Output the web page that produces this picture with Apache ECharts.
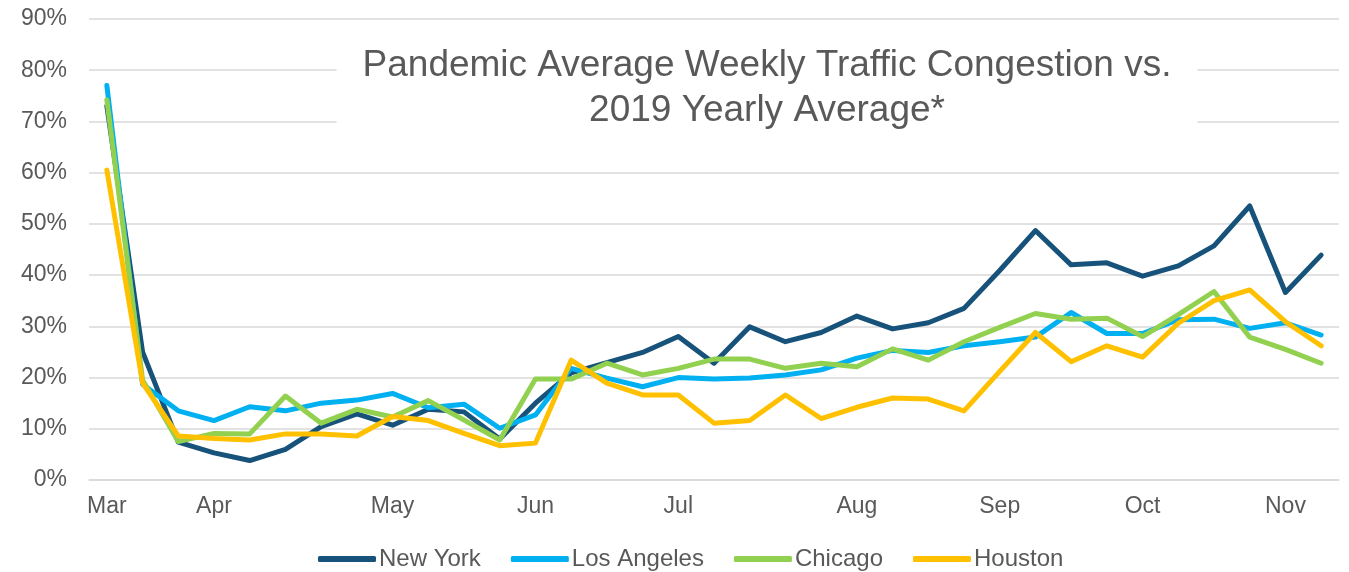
<!DOCTYPE html>
<html>
<head>
<meta charset="utf-8">
<script src="https://cdn.jsdelivr.net/npm/echarts@6/dist/echarts.min.js"></script>
<style>
html,body{margin:0;padding:0;background:#fff;}
#chart{width:1349px;height:572px;}
</style>
</head>
<body>
<div id="chart"></div>
<script>
// month tick labels and the week index they sit on
var monthLabels = ['Mar','Apr','May','Jun','Jul','Aug','Sep','Oct','Nov'];
var monthIndex = [0,3,8,12,16,21,25,29,33];

// weekly congestion, % of 2019 yearly average
var newYork = [73,25,7.4,5.3,3.8,6,10.4,12.9,10.7,13.8,13.3,8,15,20.9,22.9,24.9,28,22.8,29.9,27,28.8,32,29.5,30.7,33.5,40.9,48.7,42,42.4,39.8,41.8,45.7,53.5,36.6,43.9];
var losAngeles = [77,18.7,13.5,11.6,14.3,13.5,15,15.6,16.9,14.1,14.8,10.1,12.7,21.8,19.9,18.2,20,19.7,19.9,20.5,21.5,23.8,25.3,24.9,26.2,27,27.9,32.7,28.6,28.6,31.3,31.4,29.6,30.7,28.3];
var chicago = [74.2,19.5,7.5,9.1,9,16.4,11.1,13.8,12.3,15.5,11.7,7.8,19.7,19.7,22.8,20.5,21.8,23.6,23.6,21.8,22.8,22.1,25.6,23.4,27,29.8,32.5,31.4,31.6,28,32.3,36.8,27.9,25.5,22.8];
var houston = [60.5,18.9,8.6,8.1,7.8,9,9,8.6,12.4,11.6,9.1,6.7,7.2,23.4,18.9,16.6,16.6,11.1,11.6,16.6,12,14.2,16,15.8,13.5,21.2,28.8,23.1,26.2,24,30.6,35,37.1,30.9,26.2];

var weeks = [];
for (var i = 0; i < newYork.length; i++) {
    var k = monthIndex.indexOf(i);
    weeks.push(k >= 0 ? monthLabels[k] : ' '.repeat(i));
}

var font = 'Liberation Sans, Arial, sans-serif';
var grey = '#595959';

function makeLine(name, data, color){
    return {
        name: name,
        type: 'line',
        data: data,
        showSymbol: false,
        symbol: 'none',
        color: color,
        lineStyle: {width: 5, color: color, cap: 'round', join: 'round'}
    };
}

var myChart = echarts.init(document.getElementById('chart'));
var option = {
    animation: false,
    textStyle: {fontFamily: font},
    title: {
        text: 'Pandemic Average Weekly Traffic Congestion vs.\n2019 Yearly Average*',
        left: 741,
        top: 30,
        padding: [13, 26, 13, 26],
        backgroundColor: '#ffffff',
        textAlign: 'center',
        textStyle: {
            fontFamily: font,
            fontSize: 37,
            fontWeight: 'normal',
            color: grey,
            lineHeight: 45
        }
    },
    legend: {
        left: 313,
        top: 542,
        itemWidth: 58,
        itemHeight: 6,
        itemGap: 30,
        icon: 'roundRect',
        textStyle: {fontFamily: font, fontSize: 24, color: grey, padding: [0, 0, 0, -2]},
        data: ['New York','Los Angeles','Chicago','Houston']
    },
    grid: {left: 89, right: 10, top: 19, bottom: 92, containLabel: false},
    xAxis: {
        type: 'category',
        data: weeks,
        boundaryGap: true,
        axisTick: {show: false},
        axisLine: {lineStyle: {color: '#d9d9d9', width: 1.5}},
        axisLabel: {
            interval: 0,
            margin: 15,
            fontSize: 23,
            color: grey,
            fontFamily: font,
            formatter: function (v) { return v.trim(); }
        }
    },
    yAxis: {
        type: 'value',
        min: 0,
        max: 90,
        interval: 10,
        axisLine: {show: false},
        axisTick: {show: false},
        axisLabel: {formatter: '{value}%', margin: 22, fontSize: 23, color: grey, fontFamily: font},
        splitLine: {lineStyle: {color: '#d9d9d9', width: 1.5}}
    },
    series: [
        makeLine('New York', newYork, '#17527a'),
        makeLine('Los Angeles', losAngeles, '#00b0f0'),
        makeLine('Chicago', chicago, '#92d050'),
        makeLine('Houston', houston, '#ffc000')
    ]
};
myChart.setOption(option);
</script>
</body>
</html>
